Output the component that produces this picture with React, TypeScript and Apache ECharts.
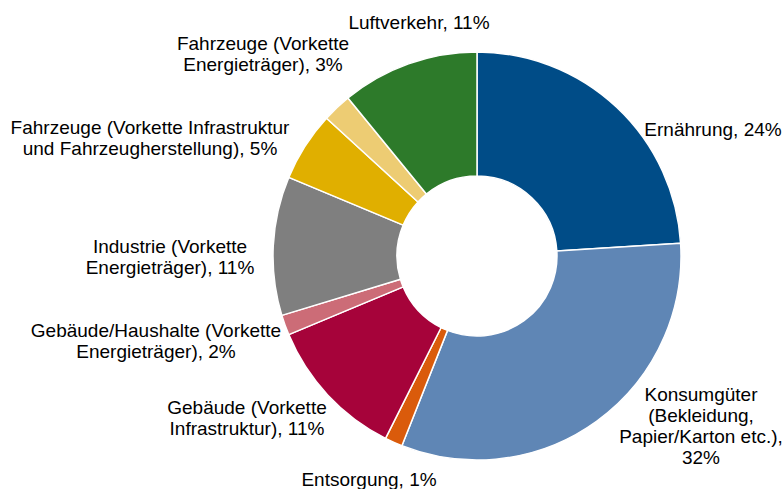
import React, { useEffect, useRef } from "react";
import * as echarts from "echarts";

const categories = [
  "Ernährung",
  "Konsumgüter (Bekleidung, Papier/Karton etc.)",
  "Entsorgung",
  "Gebäude (Vorkette Infrastruktur)",
  "Gebäude/Haushalte (Vorkette Energieträger)",
  "Industrie (Vorkette Energieträger)",
  "Fahrzeuge (Vorkette Infrastruktur und Fahrzeugherstellung)",
  "Fahrzeuge (Vorkette Energieträger)",
  "Luftverkehr",
];

const values = [24, 32, 1.4, 11.3, 1.6, 11, 5.5, 2.3, 10.9];

const labelTexts = [
  "Ernährung, 24%",
  "Konsumgüter\n(Bekleidung,\nPapier/Karton etc.),\n32%",
  "Entsorgung, 1%",
  "Gebäude (Vorkette\nInfrastruktur), 11%",
  "Gebäude/Haushalte (Vorkette\nEnergieträger), 2%",
  "Industrie (Vorkette\nEnergieträger), 11%",
  "Fahrzeuge (Vorkette Infrastruktur\nund Fahrzeugherstellung), 5%",
  "Fahrzeuge (Vorkette\nEnergieträger), 3%",
  "Luftverkehr, 11%",
];

const colors = [
  "#004C87",
  "#5F86B5",
  "#DA5B0B",
  "#A6033A",
  "#CC6C77",
  "#7F7F7F",
  "#E0AF00",
  "#EDCC73",
  "#2D7A2A",
];

// label centre positions (layout only)
const labelPos: [number, number][] = [
  [713, 129],
  [701, 426],
  [369, 479],
  [247, 418],
  [156, 341],
  [170, 257],
  [150, 138],
  [263, 54],
  [419, 22],
];

export default function App() {
  const ref = useRef<HTMLDivElement>(null);
  useEffect(() => {
    if (!ref.current) return;
    const chart = echarts.init(ref.current, null, { renderer: "svg" });
    chart.setOption({
      animation: false,
      backgroundColor: "#ffffff",
      series: [
        {
          type: "pie",
          center: [477, 256],
          radius: [80, 204],
          startAngle: 90,
          clockwise: true,
          avoidLabelOverlap: false,
          itemStyle: { borderColor: "#ffffff", borderWidth: 1.5 },
          label: {
            show: true,
            position: "outside",
            color: "#000000",
            fontFamily: "Arial, 'Liberation Sans', sans-serif",
            fontSize: 19,
            lineHeight: 21,
            align: "center",
            formatter: (p: any) => labelTexts[p.dataIndex],
          },
          labelLine: { show: false },
          labelLayout: (p: any) => ({
            x: labelPos[p.dataIndex][0],
            y: labelPos[p.dataIndex][1],
            align: "center",
            verticalAlign: "middle",
          }),
          emphasis: { disabled: true },
          data: categories.map((c, i) => ({
            name: c,
            value: values[i],
            itemStyle: { color: colors[i] },
          })),
        },
      ],
    });
    return () => chart.dispose();
  }, []);
  return (
    <div
      ref={ref}
      style={{ position: "fixed", left: 0, top: 0, width: 783, height: 489 }}
    />
  );
}
